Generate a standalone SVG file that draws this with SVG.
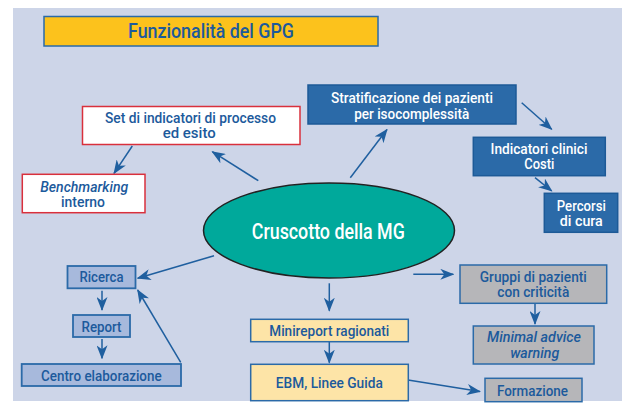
<svg xmlns="http://www.w3.org/2000/svg" width="622" height="405" viewBox="0 0 622 405">
<defs>
<marker id="ah" markerUnits="userSpaceOnUse" markerWidth="14" markerHeight="11" refX="13" refY="5.5" orient="auto">
<path d="M0,0 L14,5.5 L0,11 L4,5.5 z" fill="#1f5f9f"/>
</marker>
</defs>
<style>
text{font-family:Roboto,"Liberation Sans",Arial,sans-serif;font-weight:500;font-size:14.5px;text-anchor:middle}
.two{font-size:13.8px}
.dk{fill:#2b6aa8;stroke:#1d5a97;stroke-width:1.5}
.wt{fill:#ffffff;stroke:#d9303c;stroke-width:1.5}
.lb{fill:#a7b9dc;stroke:#2b6aa8;stroke-width:1.8}
.yl{fill:#fde4a7;stroke:#2b6aa8;stroke-width:1.5}
.gr{fill:#b6b6b9;stroke:#2b6aa8;stroke-width:1.5}
.tw{fill:#ffffff}
.tb{fill:#1c5a9c}
.it{font-style:italic}
#connectors line{stroke:#1f5f9f;stroke-width:1.5;marker-end:url(#ah)}
</style>
<rect x="13" y="8" width="609" height="393" fill="#cdd5e8"/>
<g id="title">
<rect x="44" y="16.5" width="334" height="29.5" fill="#fcc21c" stroke="#2a6aa8" stroke-width="1.5"/>
<text x="211" y="38.3" class="tb" style="font-size:20px" textLength="166" lengthAdjust="spacingAndGlyphs">Funzionalità del GPG</text>
</g>
<g id="connectors">
<line x1="258.3" y1="180.7" x2="212.3" y2="151.7"/>
<line x1="132.3" y1="146" x2="114" y2="173.3"/>
<line x1="350.3" y1="177.7" x2="387" y2="129.5"/>
<line x1="521.7" y1="102.7" x2="551.7" y2="129.3"/>
<line x1="535" y1="177.7" x2="551.7" y2="191"/>
<line x1="214" y1="255.7" x2="137.7" y2="278.3"/>
<line x1="102" y1="290.7" x2="102" y2="310"/>
<line x1="102" y1="339" x2="102" y2="358.3"/>
<line x1="180.7" y1="362.3" x2="137.7" y2="290"/>
<line x1="329.3" y1="283.3" x2="329.3" y2="310.7"/>
<line x1="329.3" y1="342" x2="329.3" y2="362.7"/>
<line x1="413.3" y1="274.3" x2="453.3" y2="274.3"/>
<line x1="535" y1="304" x2="535" y2="324"/>
<line x1="408" y1="380" x2="480" y2="391.5"/>
</g>
<g id="cruscotto">
<ellipse cx="329" cy="230.5" rx="125.5" ry="47.5" fill="#00a99b" stroke="#222222" stroke-width="1.5"/>
<text x="328.3" y="239" class="tw" style="font-size:22px" textLength="153" lengthAdjust="spacingAndGlyphs">Cruscotto della MG</text>
</g>
<g id="stratificazione">
<rect x="308" y="85" width="208" height="39" class="dk"/>
<text x="412" y="103" class="tw two" textLength="162" lengthAdjust="spacingAndGlyphs">Stratificazione dei pazienti</text>
<text x="411.7" y="118.5" class="tw two" textLength="115" lengthAdjust="spacingAndGlyphs">per isocomplessità</text>
</g>
<g id="set-indicatori">
<rect x="82.5" y="106.5" width="217.5" height="38" class="wt"/>
<text x="190.5" y="122.7" class="tb two" textLength="171" lengthAdjust="spacingAndGlyphs">Set di indicatori di processo</text>
<text x="189.2" y="137.7" class="tb two" textLength="53" lengthAdjust="spacingAndGlyphs">ed esito</text>
</g>
<g id="benchmarking">
<rect x="22.3" y="174.3" width="122.7" height="38.4" class="wt"/>
<text x="84.2" y="191.7" class="tb it two" textLength="88" lengthAdjust="spacingAndGlyphs">Benchmarking</text>
<text x="83" y="206.7" class="tb two" textLength="44" lengthAdjust="spacingAndGlyphs">interno</text>
</g>
<g id="indicatori-clinici">
<rect x="473.3" y="137.3" width="132" height="38.4" class="dk"/>
<text x="539" y="154" class="tw two" textLength="97" lengthAdjust="spacingAndGlyphs">Indicatori clinici</text>
<text x="539.3" y="169" class="tw two" textLength="30" lengthAdjust="spacingAndGlyphs">Costi</text>
</g>
<g id="percorsi">
<rect x="544.3" y="193.3" width="73.4" height="39" class="dk"/>
<text x="581.3" y="211" class="tw two" textLength="49" lengthAdjust="spacingAndGlyphs">Percorsi</text>
<text x="581.3" y="226" class="tw two" textLength="43" lengthAdjust="spacingAndGlyphs">di cura</text>
</g>
<g id="ricerca">
<rect x="67.5" y="266" width="68" height="22.3" class="lb"/>
<text x="101.5" y="282.3" class="tb" textLength="44" lengthAdjust="spacingAndGlyphs">Ricerca</text>
</g>
<g id="report">
<rect x="73" y="315" width="57" height="22" class="lb"/>
<text x="101.5" y="331.5" class="tb" textLength="40" lengthAdjust="spacingAndGlyphs">Report</text>
</g>
<g id="centro">
<rect x="21.7" y="364" width="159.3" height="22" class="lb"/>
<text x="101.3" y="381" class="tb" textLength="120.7" lengthAdjust="spacingAndGlyphs">Centro elaborazione</text>
</g>
<g id="minireport">
<rect x="250.7" y="319.3" width="157.6" height="22.4" class="yl"/>
<text x="329.3" y="335.7" class="tb" textLength="120" lengthAdjust="spacingAndGlyphs">Minireport ragionati</text>
</g>
<g id="ebm">
<rect x="250.7" y="364.3" width="157.6" height="36.4" class="yl"/>
<text x="329.3" y="388.3" class="tb" textLength="107" lengthAdjust="spacingAndGlyphs">EBM, Linee Guida</text>
</g>
<g id="gruppi">
<rect x="460" y="265" width="146.7" height="38.3" class="gr"/>
<text x="533.3" y="281.7" class="tb two" textLength="107" lengthAdjust="spacingAndGlyphs">Gruppi di pazienti</text>
<text x="533.3" y="296.7" class="tb two" textLength="72" lengthAdjust="spacingAndGlyphs">con criticità</text>
</g>
<g id="minimal">
<rect x="473.3" y="326" width="120.7" height="38" class="gr"/>
<text x="534" y="342.3" class="tb it two" textLength="94" lengthAdjust="spacingAndGlyphs">Minimal advice</text>
<text x="534.7" y="357.5" class="tb it two" textLength="49" lengthAdjust="spacingAndGlyphs">warning</text>
</g>
<g id="formazione">
<rect x="485" y="378.3" width="97" height="23.4" class="gr"/>
<text x="532.5" y="396" class="tb" textLength="71" lengthAdjust="spacingAndGlyphs">Formazione</text>
</g>
</svg>
